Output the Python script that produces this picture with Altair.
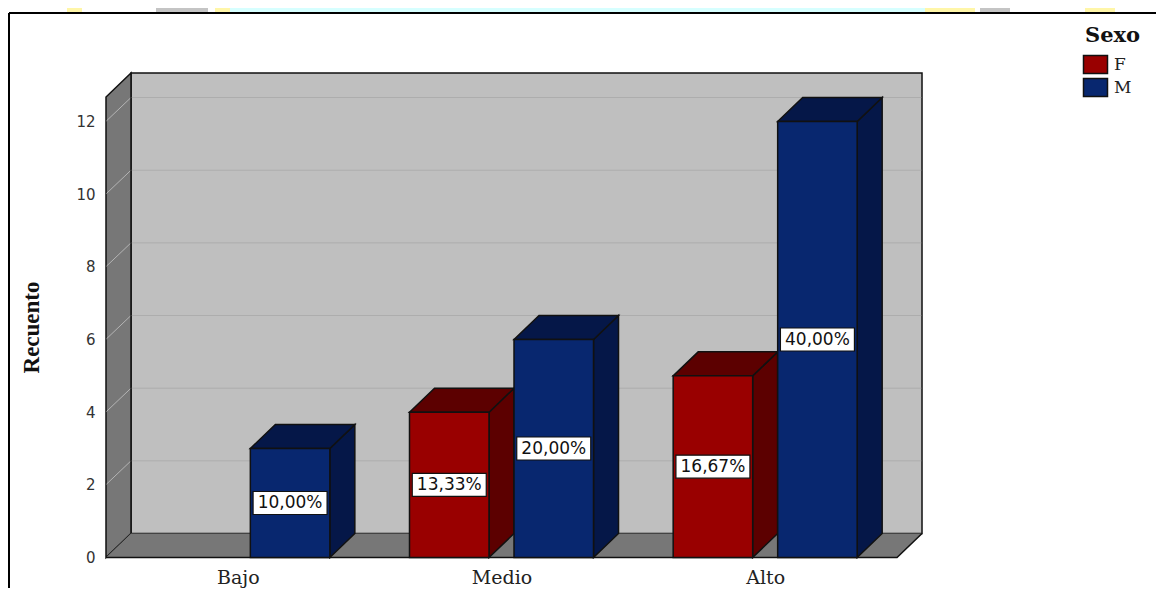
import json
import altair as alt
import pandas as pd

# ---- values
categories = ["Bajo", "Medio", "Alto"]
series = ["F", "M"]
values_f = [0, 4, 5]
values_m = [3, 6, 12]
labels_f = ["", "13,33%", "16,67%"]
labels_m = ["10,00%", "20,00%", "40,00%"]
y_ticks = [0, 2, 4, 6, 8, 10, 12]

# ---- style
FRONT = {"F": "#990000", "M": "#08276f"}
SHADE = {"F": "#5c0000", "M": "#051748"}
WALL = "#bfbfbf"
DARK = "#777777"
GRID = "#adadad"
INK = "#111111"
SERIF = "DejaVu Serif"
SANS = "DejaVu Sans"

# ---- geometry in data units
PX_X = 263.67  # px per category
PX_Y = 36.33   # px per count
DX = 25 / PX_X
DY = 24 / PX_Y
BW = 79.5 / PX_X
GAP = 25 / PX_X
TOP = 12.676
W, H = 1148, 580
x_scale = alt.Scale(domain=[(8 - 106) / PX_X, (8 + W - 106) / PX_X], nice=False, zero=False)
y_scale = alt.Scale(domain=[(557.5 - 8 - H) / PX_Y, (557.5 - 8) / PX_Y], nice=False, zero=False)
Y_MIN, Y_MAX = y_scale.domain
X_MIN, X_MAX = x_scale.domain

x_axis = alt.Axis(
    values=[0.5, 1.5, 2.5], title=None, grid=False, domain=False, ticks=False,
    labelExpr=f"{json.dumps(categories)}[floor(datum.value)]",
    labelFont=SERIF, labelFontSize=19, labelColor="#222222", labelPadding=2,
    offset=-22, labelFlush=False, labelOverlap=False)
y_axis = alt.Axis(
    values=y_ticks, title="Recuento", grid=False, domain=False, ticks=False,
    labelFont=SANS, labelFontSize=15, labelColor="#333333", labelPadding=2,
    offset=-89, labelFlush=False, labelOverlap=False, format="d",
    titleFont="Liberation Serif", titleFontSize=23, titleFontWeight="bold",
    titleColor="#111111", titleX=-54, titleY=319)

X = alt.X("x:Q", scale=x_scale, axis=x_axis)
Y = alt.Y("y:Q", scale=y_scale, axis=y_axis)

# ---- bars
fronts, sides, tops, boxes = [], [], [], []
for s, vals, labs in (("F", values_f, labels_f), ("M", values_m, labels_m)):
    for i, v in enumerate(vals):
        if v == 0:
            continue
        c = i + 0.5
        left = c - GAP / 2 - BW if s == "F" else c + GAP / 2
        right = left + BW
        key = f"{s}{i}"
        fronts.append({"x": left, "x2": right, "y": v, "y2": 0, "Sexo": s})
        sides += [
            {"x": right, "y": 0, "y2": v, "k": key, "c": SHADE[s]},
            {"x": right + DX, "y": DY, "y2": v + DY, "k": key, "c": SHADE[s]},
        ]
        tops += [
            {"y": v, "x": left, "x2": right, "k": key, "c": SHADE[s]},
            {"y": v + DY, "x": left + DX, "x2": right + DX, "k": key, "c": SHADE[s]},
        ]
        boxes.append({"x": (left + right) / 2, "y": v / 2, "t": labs[i]})

df_front = pd.DataFrame(fronts)
df_side = pd.DataFrame(sides)
df_top = pd.DataFrame(tops)
df_box = pd.DataFrame(boxes)

# ---- walls
back = alt.Chart(pd.DataFrame([{"x": DX, "x2": 3 + DX, "y": DY, "y2": TOP + DY}])).mark_rect(
    fill=WALL, stroke=INK, strokeWidth=1.5
).encode(x=X, x2="x2:Q", y=Y, y2="y2:Q")

left_wall = alt.Chart(pd.DataFrame([
    {"x": 0, "y": 0, "y2": TOP},
    {"x": DX, "y": DY, "y2": TOP + DY},
])).mark_area(fill=DARK, stroke=INK, strokeWidth=1.5, opacity=1).encode(x=X, y=Y, y2="y2:Q")

floor = alt.Chart(pd.DataFrame([
    {"y": 0, "x": 0, "x2": 3},
    {"y": DY, "x": DX, "x2": 3 + DX},
])).mark_area(fill=DARK, orient="horizontal", opacity=1).encode(x=X, x2="x2:Q", y=Y)

floor_edge = alt.Chart(pd.DataFrame([
    {"x": 0, "y": 0, "o": 0},
    {"x": 3, "y": 0, "o": 1},
    {"x": 3 + DX, "y": DY, "o": 2},
])).mark_line(color=INK, strokeWidth=1.5).encode(x=X, y=Y, order="o:Q")

grid_values = [v for v in y_ticks if v > 0]
grid_back = alt.Chart(pd.DataFrame(
    [{"x": DX + 0.003, "x2": 3 + DX - 0.003, "y": v + DY} for v in grid_values]
)).mark_rule(color=GRID, strokeWidth=1).encode(x=X, x2="x2:Q", y=Y)

grid_side = alt.Chart(pd.DataFrame(
    [{"x": 0.002, "y": v + 0.02, "k": v} for v in grid_values]
    + [{"x": DX - 0.003, "y": v + DY - 0.02, "k": v} for v in grid_values]
)).mark_line(color="#b4b4b4", strokeWidth=1).encode(x=X, y=Y, detail="k:N")

# ---- bar faces
side = alt.Chart(df_side).mark_area(stroke=INK, strokeWidth=1.5, opacity=1).encode(
    x=X, y=Y, y2="y2:Q", detail="k:N", color=alt.Color("c:N", scale=None))
top = alt.Chart(df_top).mark_area(stroke=INK, strokeWidth=1.5, orient="horizontal", opacity=1).encode(
    x=X, x2="x2:Q", y=Y, detail="k:N", color=alt.Color("c:N", scale=None))
front = alt.Chart(df_front).mark_rect(stroke=INK, strokeWidth=1.5).encode(
    x=X, x2="x2:Q", y=Y, y2="y2:Q",
    color=alt.Color("Sexo:N", scale=alt.Scale(domain=series, range=[FRONT[s] for s in series]),
                    legend=alt.Legend(
                        orient="none", legendX=1077, legendY=17, title="Sexo",
                        titleFont=SERIF, titleFontSize=21, titleFontWeight="bold", titleColor="#111111",
                        titlePadding=8,
                        labelFont=SERIF, labelFontSize=17, labelColor="#222222", labelOffset=8,
                        symbolType="M-1.263,-0.947H1.263V0.947H-1.263Z", symbolSize=361,
                        symbolStrokeColor=INK, symbolStrokeWidth=1.5, symbolOpacity=1,
                        rowPadding=-2)))

box = alt.Chart(df_box).mark_rect(width=74, height=23, fill="white", stroke=INK, strokeWidth=1.2).encode(x=X, y=Y)
box_text = alt.Chart(df_box).mark_text(font=SANS, fontSize=17, color="#111111").encode(x=X, y=Y, text="t:N")

# ---- frame around the chart, and the page behind it above the frame
page = alt.Chart(pd.DataFrame({
    "x": [(p - 106) / PX_X for p in (67, 156, 215, 230, 925, 980, 1085)],
    "x2": [(p - 106) / PX_X for p in (82, 208, 230, 925, 975, 1010, 1115)],
    "c": ["#fff6a8", "#c4c4c4", "#fff6a8", "#d6ffff", "#fff6a8", "#c4c4c4", "#fff6a8"],
    "y": [Y_MAX] * 7,
    "y2": [Y_MAX - 4.5 / PX_Y] * 7,
})).mark_rect().encode(x=X, x2="x2:Q", y=Y, y2="y2:Q", color=alt.Color("c:N", scale=None))
frame_x = X_MIN + 1 / PX_X
frame_y = Y_MAX - 5 / PX_Y
frame_left = alt.Chart(pd.DataFrame([{"x": frame_x, "y": frame_y, "y2": Y_MIN}])).mark_rule(
    color="#000000", strokeWidth=2).encode(x=X, y=Y, y2="y2:Q")
frame_top = alt.Chart(pd.DataFrame([{"x": frame_x, "x2": X_MAX, "y": frame_y}])).mark_rule(
    color="#000000", strokeWidth=2).encode(x=X, x2="x2:Q", y=Y)

chart = alt.layer(
    page, back, left_wall, floor, floor_edge, grid_back, grid_side, side, top, front, box, box_text,
    frame_left, frame_top,
).properties(
    width=W, height=H, padding=0, autosize=alt.AutoSizeParams(type="none"),
    background="white",
).configure_view(stroke=None)

chart.save("out.html", embed_options={"renderer": "svg", "actions": False})
